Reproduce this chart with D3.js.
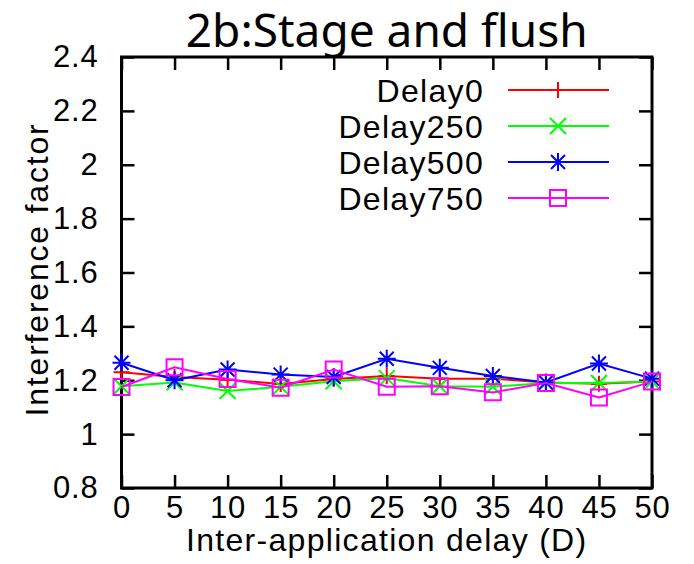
<!DOCTYPE html>
<html>
<head>
<meta charset="utf-8">
<script src="https://cdn.jsdelivr.net/npm/d3@7"></script>
<style>
  html, body { margin: 0; padding: 0; background: #fff; }
  svg { display: block; }
  .tick text, .lbl { font-family: "Liberation Sans", Arial, sans-serif; fill: #000; }
</style>
</head>
<body>
<svg id="chart" width="694" height="564"></svg>
<script>
// Inter-application delay (D) on the x axis
const delays = [0, 5, 10, 15, 20, 25, 30, 35, 40, 45, 50];

// Interference factor per series
const delay0   = [1.230, 1.212, 1.202, 1.186, 1.205, 1.216, 1.206, 1.206, 1.192, 1.187, 1.195];
const delay250 = [1.178, 1.192, 1.160, 1.176, 1.196, 1.208, 1.178, 1.176, 1.190, 1.190, 1.195];
const delay500 = [1.265, 1.200, 1.240, 1.221, 1.212, 1.280, 1.246, 1.216, 1.192, 1.262, 1.206];
const delay750 = [1.175, 1.248, 1.205, 1.172, 1.240, 1.176, 1.178, 1.155, 1.190, 1.136, 1.195];

const seriesNames = ["Delay0", "Delay250", "Delay500", "Delay750"];
const seriesColors = ["#ff0000", "#00ff00", "#0000ff", "#ff00ff"];
const seriesMarkers = ["plus", "cross", "star", "square"];

const yTicks = [0.8, 1, 1.2, 1.4, 1.6, 1.8, 2, 2.2, 2.4];
const xTicks = [0, 5, 10, 15, 20, 25, 30, 35, 40, 45, 50];

const W = 694, H = 564;
const margin = { top: 57, right: 42, bottom: 76, left: 121.5 };
const innerW = W - margin.left - margin.right;
const innerH = H - margin.top - margin.bottom;

const svg = d3.select("#chart");
const g = svg.append("g").attr("transform", `translate(${margin.left},${margin.top})`);

const x = d3.scaleLinear().domain([0, 50]).range([0, innerW]);
const y = d3.scaleLinear().domain([0.8, 2.4]).range([innerH, 0]);

const FONT = 32;
const SPACING = "1.3px";
const TICK_FONT = 31;
const TICK = -13;

function styleAxis(sel, showText) {
  sel.select(".domain").remove();
  sel.selectAll(".tick line").attr("stroke", "#000").attr("stroke-width", 2.5);
  sel.selectAll(".tick text")
    .style("font-size", TICK_FONT + "px")
    .style("letter-spacing", "0.8px")
    .attr("display", showText ? null : "none");
}

// Bottom axis with labels, top axis as mirrored ticks
g.append("g").attr("transform", `translate(0,${innerH})`)
  .call(d3.axisBottom(x).tickValues(xTicks).tickSizeInner(TICK).tickSizeOuter(0).tickPadding(8).tickFormat(d3.format("d")))
  .call(s => styleAxis(s, true));
g.append("g")
  .call(d3.axisTop(x).tickValues(xTicks).tickSizeInner(TICK).tickSizeOuter(0))
  .call(s => styleAxis(s, false));

// Left axis with labels, right axis as mirrored ticks
g.append("g")
  .call(d3.axisLeft(y).tickValues(yTicks).tickSizeInner(TICK).tickSizeOuter(0).tickPadding(23).tickFormat(d => String(+d.toFixed(1))))
  .call(s => styleAxis(s, true));
g.append("g").attr("transform", `translate(${innerW},0)`)
  .call(d3.axisRight(y).tickValues(yTicks).tickSizeInner(TICK).tickSizeOuter(0))
  .call(s => styleAxis(s, false));

// Plot frame
g.append("rect")
  .attr("width", innerW).attr("height", innerH)
  .attr("fill", "none").attr("stroke", "#000").attr("stroke-width", 3);

// Marker shapes
function markerPath(type) {
  const p = d3.path();
  if (type === "plus") {
    p.moveTo(-8, 0); p.lineTo(8, 0); p.moveTo(0, -8); p.lineTo(0, 8);
  } else if (type === "cross") {
    p.moveTo(-8, -8); p.lineTo(8, 8); p.moveTo(-8, 8); p.lineTo(8, -8);
  } else if (type === "star") {
    p.moveTo(-9, 0); p.lineTo(9, 0); p.moveTo(0, -9); p.lineTo(0, 9);
    p.moveTo(-7, -7); p.lineTo(7, 7); p.moveTo(-7, 7); p.lineTo(7, -7);
  } else if (type === "square") {
    p.rect(-8, -8, 16, 16);
    p.moveTo(-0.5, 0); p.lineTo(0.5, 0);
  }
  return p.toString();
}

const allSeries = [delay0, delay250, delay500, delay750];
const line = d3.line().x((d, i) => x(delays[i])).y(d => y(d));

allSeries.forEach((vals, k) => {
  const sg = g.append("g");
  sg.append("path")
    .attr("d", line(vals))
    .attr("fill", "none")
    .attr("stroke", seriesColors[k])
    .attr("stroke-width", 2);
  sg.selectAll("path.mk")
    .data(vals)
    .join("path")
    .attr("class", "mk")
    .attr("transform", (d, i) => `translate(${x(delays[i])},${y(d)})`)
    .attr("d", markerPath(seriesMarkers[k]))
    .attr("fill", "none")
    .attr("stroke", seriesColors[k])
    .attr("stroke-width", 2);
});

// Legend
const legend = svg.append("g");
seriesNames.forEach((name, k) => {
  const ly = 90 + k * 36;
  legend.append("text")
    .attr("class", "lbl")
    .attr("x", 484).attr("y", ly)
    .attr("dy", "0.36em")
    .attr("text-anchor", "end")
    .style("font-size", FONT + "px")
    .style("letter-spacing", SPACING)
    .text(name);
  legend.append("line")
    .attr("x1", 508).attr("x2", 609)
    .attr("y1", ly).attr("y2", ly)
    .attr("stroke", seriesColors[k]).attr("stroke-width", 2);
  legend.append("path")
    .attr("transform", `translate(558,${ly})`)
    .attr("d", markerPath(seriesMarkers[k]))
    .attr("fill", "none")
    .attr("stroke", seriesColors[k]).attr("stroke-width", 2);
});

// Axis titles
svg.append("text")
  .attr("class", "lbl")
  .attr("x", margin.left + innerW / 2).attr("y", 551)
  .attr("text-anchor", "middle")
  .style("font-size", FONT + "px")
  .style("letter-spacing", SPACING)
  .text("Inter-application delay (D)");

svg.append("text")
  .attr("class", "lbl")
  .attr("transform", `translate(48,${margin.top + innerH / 2 - 3}) rotate(-90)`)
  .attr("text-anchor", "middle")
  .style("font-size", FONT + "px")
  .style("letter-spacing", "1.8px")
  .text("Interference factor");

// Chart title
svg.append("text")
  .attr("x", margin.left + innerW / 2).attr("y", 47)
  .attr("text-anchor", "middle")
  .style("font-family", "'Noto Sans', sans-serif")
  .style("font-size", "46px")
  .style("fill", "#000")
  .text("2b:Stage and flush");
</script>
</body>
</html>
